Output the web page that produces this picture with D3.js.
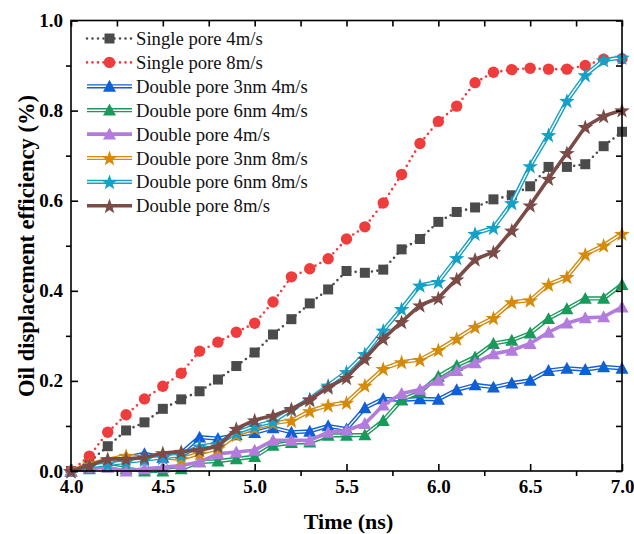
<!DOCTYPE html>
<html>
<head>
<meta charset="utf-8">
<script src="https://cdn.jsdelivr.net/npm/d3@7"></script>
<style>
  html, body { margin: 0; padding: 0; background: #fff; }
  svg { display: block; }
  text { font-family: "Liberation Serif", "Times New Roman", serif; }
</style>
</head>
<body>
<svg id="chart" width="634" height="534"></svg>
<script>
// Sampling times (ns)
const times = [4.0, 4.1, 4.2, 4.3, 4.4, 4.5, 4.6, 4.7, 4.8, 4.9, 5.0,
               5.1, 5.2, 5.3, 5.4, 5.5, 5.6, 5.7, 5.8, 5.9, 6.0,
               6.1, 6.2, 6.3, 6.4, 6.5, 6.6, 6.7, 6.8, 6.9, 7.0];

const singlePore4 = [0, 0.02, 0.055, 0.09, 0.108, 0.138, 0.159, 0.177, 0.203, 0.233, 0.263,
  0.303, 0.337, 0.372, 0.403, 0.444, 0.440, 0.447, 0.492, 0.515, 0.553,
  0.575, 0.585, 0.603, 0.612, 0.632, 0.675, 0.675, 0.681, 0.721, 0.753];
const singlePore8 = [0, 0.033, 0.086, 0.125, 0.160, 0.188, 0.217, 0.266, 0.286, 0.308, 0.328,
  0.375, 0.431, 0.449, 0.471, 0.515, 0.542, 0.595, 0.658, 0.727, 0.776,
  0.810, 0.862, 0.885, 0.891, 0.894, 0.892, 0.892, 0.900, 0.914, 0.915];
const double3nm4 = [0, 0.01, 0.02, 0.03, 0.038, 0.03, 0.04, 0.075, 0.072, 0.08, 0.085,
  0.096, 0.086, 0.088, 0.100, 0.093, 0.140, 0.160, 0.158, 0.160, 0.159,
  0.180, 0.191, 0.186, 0.195, 0.201, 0.223, 0.228, 0.225, 0.231, 0.228];
const double6nm4 = [0, 0.005, 0.012, 0.005, 0.0, 0.0, 0.005, 0.02, 0.022, 0.027, 0.032,
  0.057, 0.063, 0.064, 0.079, 0.079, 0.080, 0.112, 0.158, 0.175, 0.210,
  0.234, 0.253, 0.283, 0.290, 0.306, 0.338, 0.360, 0.383, 0.383, 0.414];
const double4 = [0, 0.007, 0.008, 0.0, 0.005, 0.008, 0.012, 0.020, 0.038, 0.042, 0.046,
  0.068, 0.068, 0.068, 0.086, 0.090, 0.105, 0.146, 0.172, 0.181, 0.201,
  0.223, 0.240, 0.260, 0.268, 0.283, 0.308, 0.328, 0.340, 0.342, 0.364];
const double3nm8 = [0, 0.015, 0.025, 0.034, 0.03, 0.03, 0.027, 0.039, 0.05, 0.08, 0.095,
  0.106, 0.112, 0.133, 0.146, 0.152, 0.190, 0.227, 0.242, 0.247, 0.269,
  0.294, 0.320, 0.340, 0.375, 0.379, 0.414, 0.431, 0.481, 0.501, 0.527];
const double6nm8 = [0, 0.01, 0.015, 0.02, 0.025, 0.03, 0.035, 0.055, 0.06, 0.085, 0.10,
  0.11, 0.136, 0.160, 0.190, 0.220, 0.260, 0.312, 0.360, 0.412, 0.420,
  0.473, 0.527, 0.540, 0.595, 0.677, 0.746, 0.822, 0.879, 0.912, 0.918];
const double8 = [0, 0.012, 0.027, 0.027, 0.03, 0.04, 0.043, 0.047, 0.055, 0.094, 0.113,
  0.123, 0.138, 0.158, 0.186, 0.207, 0.249, 0.294, 0.331, 0.368, 0.384,
  0.426, 0.470, 0.486, 0.534, 0.590, 0.649, 0.706, 0.764, 0.788, 0.801];

const seriesNames = ["Single pore 4m/s", "Single pore 8m/s", "Double pore 3nm 4m/s",
  "Double pore 6nm 4m/s", "Double pore 4m/s", "Double pore 3nm 8m/s",
  "Double pore 6nm 8m/s", "Double pore 8m/s"];
const seriesValues = [singlePore4, singlePore8, double3nm4, double6nm4, double4,
  double3nm8, double6nm8, double8];

const xTicks = [4.0, 4.5, 5.0, 5.5, 6.0, 6.5, 7.0];
const yTicks = [0.0, 0.2, 0.4, 0.6, 0.8, 1.0];

// Drawing styles per series
const styles = [
  { color: "#4b4b4b", line: "dot", marker: "square" },
  { color: "#ef3d3d", line: "dot", marker: "circle" },
  { color: "#0f5fd6", line: "double", marker: "triangle" },
  { color: "#179a5a", line: "double", marker: "triangle" },
  { color: "#b27cdc", line: "solid", marker: "triangle" },
  { color: "#d48b0b", line: "double", marker: "star" },
  { color: "#15a0c8", line: "double", marker: "star" },
  { color: "#7a4b47", line: "solid", marker: "star" }
];

const svg = d3.select("#chart");
const plotLeft = 71, plotRight = 622, plotTop = 20.5, plotBottom = 471;

const x = d3.scaleLinear().domain([4, 7]).range([plotLeft, plotRight]);
const y = d3.scaleLinear().domain([0, 1]).range([plotBottom, plotTop]);

function starPath(R) {
  const r = R * 0.4;
  const pts = [];
  for (let i = 0; i < 10; i++) {
    const a = -Math.PI / 2 + i * Math.PI / 5;
    const rr = i % 2 === 0 ? R : r;
    pts.push([rr * Math.cos(a), rr * Math.sin(a) + R * 0.1]);
  }
  return "M" + pts.map(p => p[0].toFixed(2) + "," + p[1].toFixed(2)).join("L") + "Z";
}
function trianglePath(w) {
  const h = w * 0.92;
  return `M0,${-h * 0.55}L${w / 2},${h * 0.45}L${-w / 2},${h * 0.45}Z`;
}
function markerPath(kind) {
  if (kind === "square") return "M-5,-5H5V5H-5Z";
  if (kind === "circle") return d3.symbol(d3.symbolCircle, Math.PI * 5.7 * 5.7)();
  if (kind === "triangle") return trianglePath(13);
  return starPath(8.2);
}

function drawLine(g, pts, st) {
  const line = d3.line().x(d => d[0]).y(d => d[1]);
  if (st.line === "dot") {
    g.append("path").attr("d", line(pts)).attr("fill", "none")
      .attr("stroke", st.color).attr("stroke-width", 2.6)
      .attr("stroke-linecap", "round").attr("stroke-dasharray", "0 5.5");
  } else if (st.line === "double") {
    g.append("path").attr("d", line(pts)).attr("fill", "none")
      .attr("stroke", st.color).attr("stroke-width", 4.2).attr("stroke-linejoin", "round");
    g.append("path").attr("d", line(pts)).attr("fill", "none")
      .attr("stroke", "#fff").attr("stroke-width", 1.4).attr("stroke-linejoin", "round");
  } else {
    g.append("path").attr("d", line(pts)).attr("fill", "none")
      .attr("stroke", st.color).attr("stroke-width", 3.6).attr("stroke-linejoin", "round");
  }
}

// Data series
const plot = svg.append("g");
seriesValues.forEach((vals, i) => {
  const st = styles[i];
  const g = plot.append("g");
  const pts = vals.map((v, j) => [x(times[j]), y(v)]);
  drawLine(g, pts, st);
  g.selectAll("path.mk").data(pts).enter().append("path")
    .attr("class", "mk")
    .attr("d", markerPath(st.marker))
    .attr("transform", d => `translate(${d[0]},${d[1]})`)
    .attr("fill", st.color);
});

// Frame
svg.append("rect").attr("x", plotLeft).attr("y", plotTop)
  .attr("width", plotRight - plotLeft).attr("height", plotBottom - plotTop)
  .attr("fill", "none").attr("stroke", "#000").attr("stroke-width", 1.6);

// Axes: major ticks point inward, minor ticks outward on bottom/left
const xMinor = [4.25, 4.75, 5.25, 5.75, 6.25, 6.75];
const yMinor = [0.1, 0.3, 0.5, 0.7, 0.9];

const bottomAxis = svg.append("g").attr("transform", `translate(0,${plotBottom})`)
  .call(d3.axisBottom(x).tickValues(xTicks).tickFormat(d3.format(".1f")).tickSize(-7).tickPadding(9));
bottomAxis.select(".domain").remove();
bottomAxis.selectAll("text").attr("font-size", 19).attr("font-weight", "bold")
  .attr("font-family", "Liberation Serif").attr("fill", "#000");
bottomAxis.selectAll("line").attr("stroke-width", 1.6);
svg.append("g").attr("transform", `translate(0,${plotBottom})`)
  .call(d3.axisBottom(x).tickValues(xMinor).tickFormat("").tickSize(5))
  .call(g => g.select(".domain").remove())
  .selectAll("line").attr("stroke-width", 1.6);

const leftAxis = svg.append("g").attr("transform", `translate(${plotLeft},0)`)
  .call(d3.axisLeft(y).tickValues(yTicks).tickFormat(d3.format(".1f")).tickSize(-7).tickPadding(8));
leftAxis.select(".domain").remove();
leftAxis.selectAll("text").attr("font-size", 19).attr("font-weight", "bold")
  .attr("font-family", "Liberation Serif").attr("fill", "#000");
leftAxis.selectAll("line").attr("stroke-width", 1.6);
svg.append("g").attr("transform", `translate(${plotLeft},0)`)
  .call(d3.axisLeft(y).tickValues(yMinor).tickFormat("").tickSize(5))
  .call(g => g.select(".domain").remove())
  .selectAll("line").attr("stroke-width", 1.6);

// Top and right axes: all ticks inward, no labels
const xAll = [4.0, 4.25, 4.5, 4.75, 5.0, 5.25, 5.5, 5.75, 6.0, 6.25, 6.5, 6.75, 7.0];
const yAll = [0.0, 0.1, 0.2, 0.3, 0.4, 0.5, 0.6, 0.7, 0.8, 0.9, 1.0];
svg.append("g").attr("transform", `translate(0,${plotTop})`)
  .call(d3.axisTop(x).tickValues(xAll).tickFormat("").tickSize(-6))
  .call(g => g.select(".domain").remove())
  .selectAll("line").attr("stroke-width", 1.6);
svg.append("g").attr("transform", `translate(${plotRight},0)`)
  .call(d3.axisRight(y).tickValues(yAll).tickFormat("").tickSize(-6))
  .call(g => g.select(".domain").remove())
  .selectAll("line").attr("stroke-width", 1.6);

// Axis titles
svg.append("text").attr("x", (plotLeft + plotRight) / 2 + 2).attr("y", 529)
  .attr("text-anchor", "middle").attr("font-size", 22).attr("font-weight", "bold")
  .text("Time (ns)");
svg.append("text").attr("transform", "translate(34,246) rotate(-90)")
  .attr("text-anchor", "middle").attr("font-size", 22.5).attr("font-weight", "bold")
  .text("Oil displacement efficiency (%)");

// Legend
const legend = svg.append("g");
seriesNames.forEach((name, i) => {
  const st = styles[i];
  const cy = 38.5 + i * 23.9;
  const g = legend.append("g");
  drawLine(g, [[87, cy], [132, cy]], st);
  g.append("path").attr("d", markerPath(st.marker))
    .attr("transform", `translate(109.5,${cy})`).attr("fill", st.color);
  g.append("text").attr("x", 136).attr("y", cy + 6.5)
    .attr("font-size", 18.7).attr("fill", "#111").text(name);
});
</script>
</body>
</html>
